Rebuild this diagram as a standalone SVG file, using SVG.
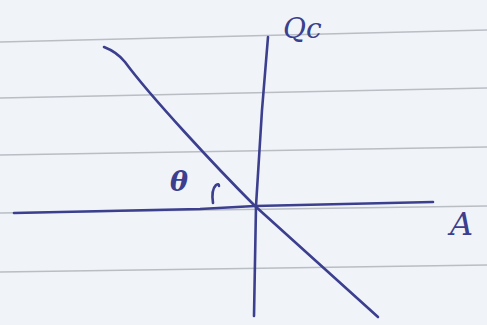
<svg xmlns="http://www.w3.org/2000/svg" width="487" height="325" viewBox="0 0 487 325">
<style>
.rule{stroke:#b9bdc4;stroke-width:1.3;fill:none}
.ink{stroke:#3b3f8e;stroke-width:2.6;fill:none;stroke-linecap:round;stroke-linejoin:round}
.lbl{font-family:"DejaVu Serif","Liberation Serif",serif;font-style:italic;fill:#3b3f8e}
</style>
<rect width="487" height="325" fill="#f0f4f9"/>
<g id="paper-lines">
<line class="rule" x1="0" y1="42" x2="487" y2="30"/>
<line class="rule" x1="0" y1="98" x2="487" y2="88"/>
<line class="rule" x1="0" y1="155" x2="487" y2="147"/>
<line class="rule" x1="0" y1="213" x2="487" y2="206"/>
<line class="rule" x1="0" y1="272" x2="487" y2="265"/>
</g>
<g id="axes">
<path class="ink" d="M14,213 L200,209 L255,206 L433,202"/>
<path class="ink" d="M268,37 L262,110 L256,206 L254,316"/>
<path class="ink" d="M104,47 Q117,52 125,62 C150,96 215,166 255,206 L378,317"/>
<path class="ink" d="M213,203 Q211,190 216,185 Q219,183 219,186"/>
</g>
<g id="labels">
<text class="lbl" x="170" y="191" font-size="27" font-weight="bold">θ</text>
<text class="lbl" x="283" y="38" font-size="28">Qc</text>
<text class="lbl" x="450" y="235" font-size="32">A</text>
</g>
</svg>
